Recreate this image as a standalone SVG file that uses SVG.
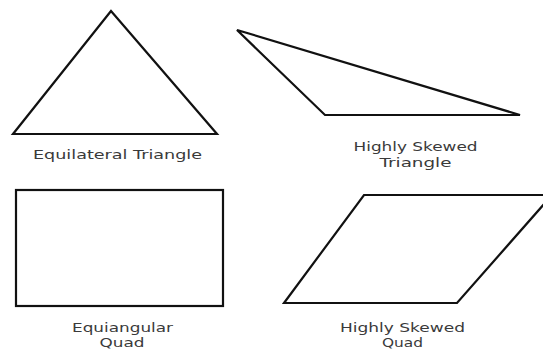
<svg xmlns="http://www.w3.org/2000/svg" width="543" height="354" viewBox="0 0 543 354">
<style>
.shape{fill:none;stroke:#111;stroke-width:2.2;stroke-linejoin:miter}
.lbl{font-family:"DejaVu Sans",Verdana,sans-serif;font-size:12.5px;fill:#3a3a3a;text-anchor:middle}
</style>
<rect width="543" height="354" fill="#fff"/>
<g id="equilateral-triangle">
<polygon class="shape" points="111,11 13,134 217,134"/>
<text class="lbl" x="117.5" y="159" textLength="169" lengthAdjust="spacingAndGlyphs">Equilateral Triangle</text>
</g>
<g id="skewed-triangle">
<polygon class="shape" points="237,30 325,115 520,115"/>
<text class="lbl" x="415.5" y="151" textLength="124" lengthAdjust="spacingAndGlyphs">Highly Skewed</text>
<text class="lbl" x="415.5" y="167" textLength="72" lengthAdjust="spacingAndGlyphs">Triangle</text>
</g>
<g id="equiangular-quad">
<rect class="shape" x="16" y="190" width="207" height="116"/>
<text class="lbl" x="122.5" y="332" textLength="101" lengthAdjust="spacingAndGlyphs">Equiangular</text>
<text class="lbl" x="122" y="347" textLength="45" lengthAdjust="spacingAndGlyphs">Quad</text>
</g>
<g id="skewed-quad">
<polygon class="shape" points="284,303 364,195 552,195 457,303"/>
<text class="lbl" x="402.5" y="332" textLength="125" lengthAdjust="spacingAndGlyphs">Highly Skewed</text>
<text class="lbl" x="402.5" y="347" textLength="41" lengthAdjust="spacingAndGlyphs">Quad</text>
</g>
<g id="connectors"/>
</svg>
